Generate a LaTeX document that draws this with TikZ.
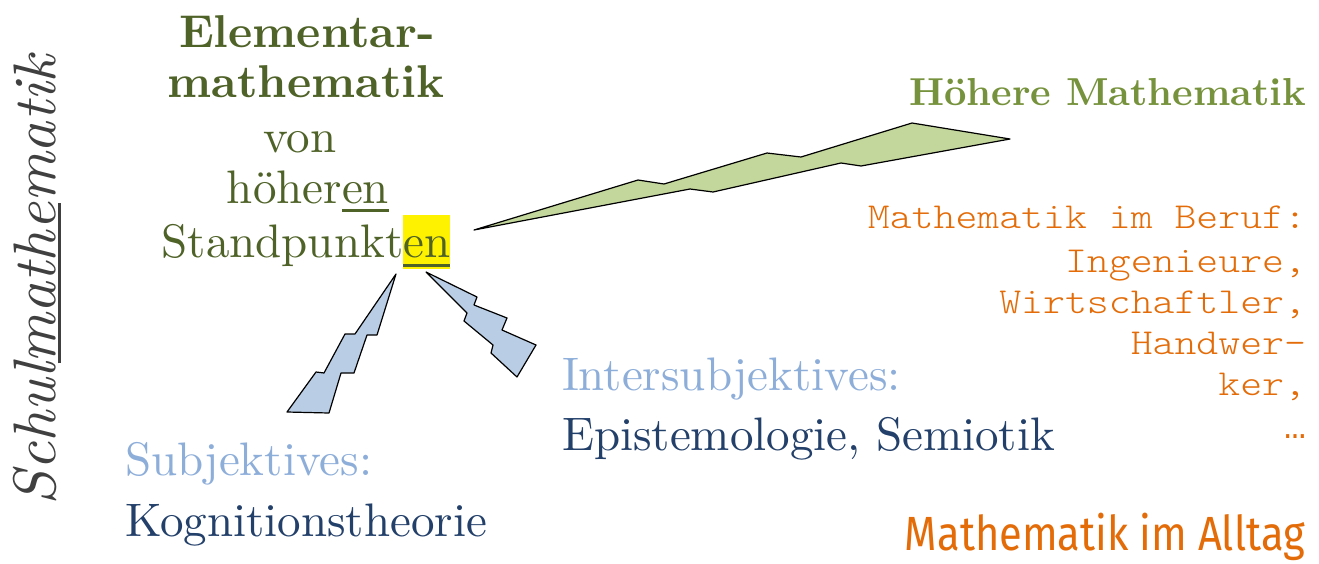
\documentclass[tikz,border=0pt]{standalone}
\usepackage{fontspec}
\setmainfont{lmroman10-regular}[Extension=.otf, BoldFont=lmroman10-bold, ItalicFont=lmroman10-italic]
\newfontfamily\monof{lmmonolt10-regular}[Extension=.otf, FakeStretch=1.14]
\newfontfamily\ellf{Liberation Mono}
\newfontfamily\alltagf{Fira Sans}
\definecolor{cOliveDark}{HTML}{4F6228}
\definecolor{cOliveLight}{HTML}{76923C}
\definecolor{cBoltGreen}{HTML}{C3D69B}
\definecolor{cBoltBlue}{HTML}{B9CDE5}
\definecolor{cBlueLight}{HTML}{8EAEDA}
\definecolor{cBlueDark}{HTML}{23406A}
\definecolor{cOrange}{HTML}{E36C09}
\definecolor{cGray}{HTML}{404040}
\newcommand\ulpart[2]{\setbox0\hbox{#2}\rlap{\rule[#1]{\wd0}{3pt}}#2}
\newcommand\hlpart[1]{\setbox0\hbox{#1}\rlap{\color{yellow}\rule[-12pt]{\wd0}{54pt}}\rlap{\rule[-9.5pt]{\wd0}{3pt}}#1}
\tikzset{
  txt/.style={inner sep=0pt, outer sep=0pt},
  headbold/.style={txt, text=cOliveDark, font=\fontsize{46}{50}\selectfont\bfseries},
  headreg/.style={txt, text=cOliveDark, font=\fontsize{47}{52}\selectfont},
  hoehere/.style={txt, text=cOliveLight, font=\fontsize{39}{44}\selectfont\bfseries},
  monotxt/.style={txt, text=cOrange, font=\monof\fontsize{36.6}{42}\selectfont, anchor=base east},
  lightblue/.style={txt, text=cBlueLight, font=\fontsize{47}{52}\selectfont, anchor=base west},
  darkblue/.style={txt, text=cBlueDark, font=\fontsize{47}{52}\selectfont, anchor=base west},
  bolt/.style={draw=black, line width=1.2pt, line join=round},
}
\begin{document}
\begin{tikzpicture}[x=1pt, y=-1pt]
\useasboundingbox (0,0) rectangle (1319,563);
% bolts
\path[bolt, fill=cBoltGreen] (474,230) -- (638,180) -- (664,184) -- (767,153) -- (801,157) -- (912,123) -- (1010,139) -- (861,166) -- (841,163) -- (713,192) -- (690,189) -- cycle;
\path[bolt, fill=cBoltBlue] (396,274) -- (377,335) -- (367,335) -- (354,373) -- (341,373) -- (329,413) -- (287,412) -- (316,372) -- (324,373) -- (345,334) -- (355,334) -- cycle;
\path[bolt, fill=cBoltBlue] (426,272) -- (477,297) -- (474,305) -- (507,318) -- (502,330) -- (536,345) -- (517,377) -- (491,353) -- (493,345) -- (464,321) -- (467,313) -- cycle;
% vertical title
\node[txt, rotate=90, anchor=base west, text=cGray, font=\fontsize{60}{66}\selectfont\itshape] (schul) at (55,505)
  {\resizebox{450pt}{\height}{Schul\ulpart{-5.5pt}{mathe}matik}};
% central block
\node[headbold, anchor=base] (elem) at (307,47) {Elementar-};
\node[headbold, anchor=base] (mathe) at (306,97) {mathematik};
\node[headreg, anchor=base] (von) at (300,152) {von};
\node[headreg, anchor=base] (hoeh) at (308,203) {h\"oher\ulpart{-8.5pt}{en}};
\node[headreg, anchor=base] (stand) at (306,257) {Standpunkt\hlpart{en}};
% hoehere
\node[hoehere, anchor=base east] (hm) at (1306,105) {H\"ohere Mathematik};
% beruf
\node[monotxt] (b1) at (1306,228) {Mathematik im Beruf:};
\node[monotxt] (b2) at (1306,272) {Ingenieure,};
\node[monotxt] (b3) at (1306,313) {Wirtschaftler,};
\node[monotxt] (b4) at (1306,354) {Handwer-};
\node[monotxt] (b5) at (1306,395) {ker,};
\node[monotxt, font=\ellf\fontsize{36.6}{42}\selectfont] (b6) at (1306,438) {…};
% subjektives
\node[lightblue] (subj) at (125,475) {Subjektives:};
\node[darkblue] (kog) at (125,536) {Kognitionstheorie};
\node[lightblue] (inter) at (562,390) {Intersubjektives:};
\node[darkblue] (epi) at (562,450) {Epistemologie, Semiotik};
% alltag
\node[txt, anchor=base east, text=cOrange, font=\alltagf\fontsize{48}{52}\selectfont] (alltag) at (1305,550)
  {\resizebox{400pt}{\height}{Mathematik im Alltag}};
\end{tikzpicture}
\end{document}
